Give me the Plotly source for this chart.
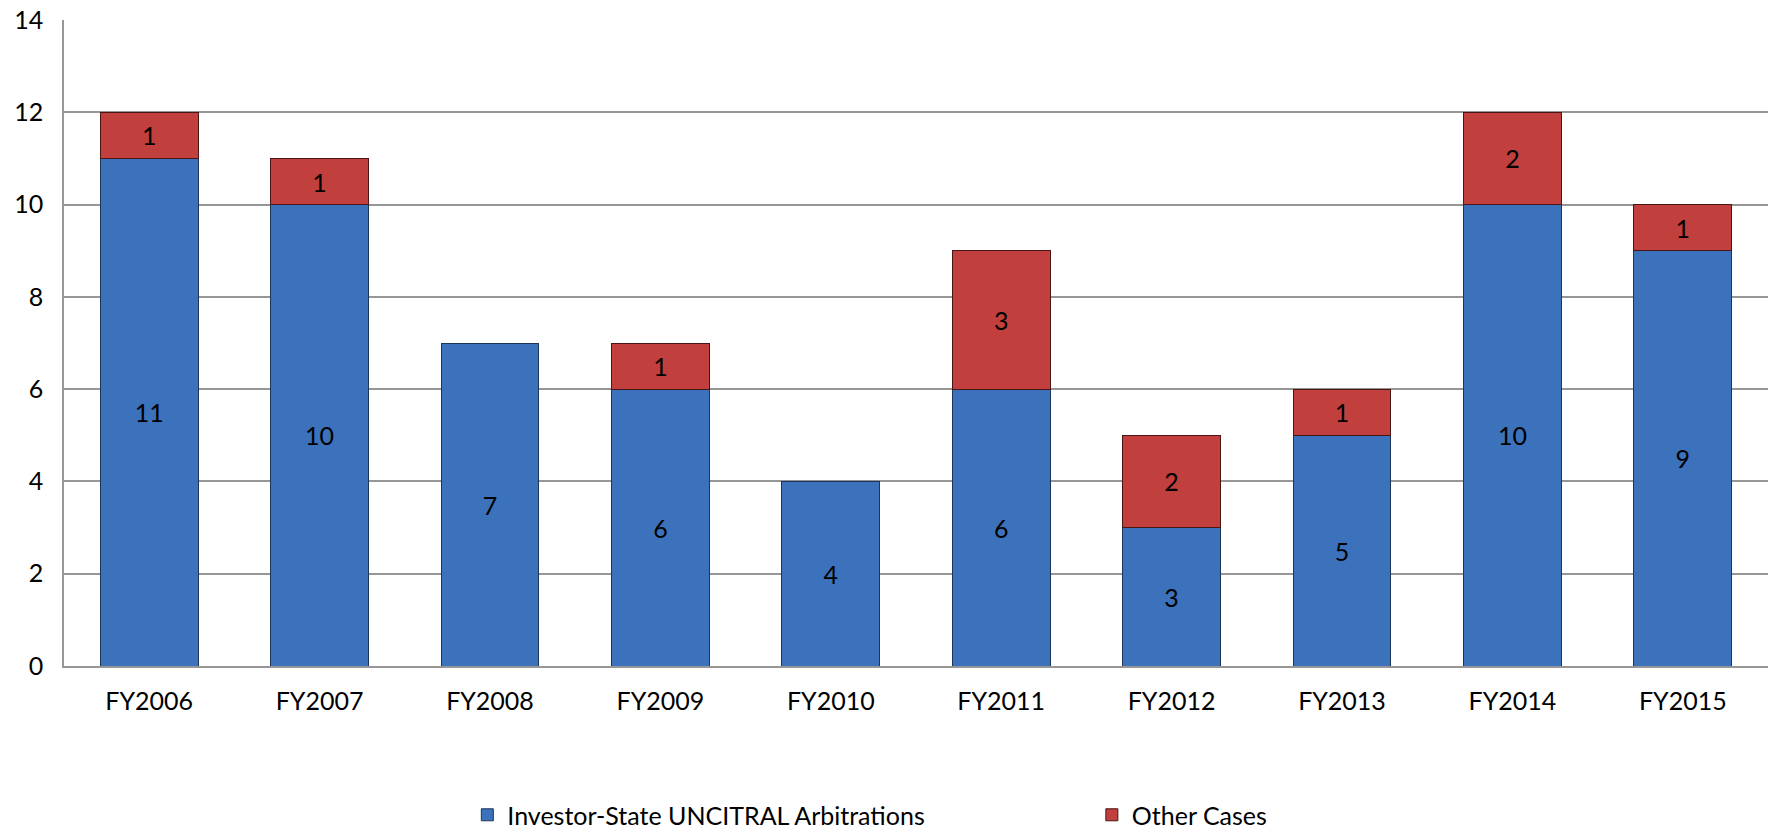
"""UNCITRAL cases per fiscal year, stacked bars."""
import plotly.graph_objects as go

years = ["FY2006", "FY2007", "FY2008", "FY2009", "FY2010",
         "FY2011", "FY2012", "FY2013", "FY2014", "FY2015"]
investor_state = [11, 10, 7, 6, 4, 6, 3, 5, 10, 9]
other_cases = [1, 1, 0, 1, 0, 3, 2, 1, 2, 1]

FONT = "Lato, 'Open Sans', sans-serif"
FS = 25

fig = go.Figure()
fig.add_trace(go.Bar(
    x=years, y=investor_state, name="Investor-State UNCITRAL Arbitrations",
    marker=dict(color="#3c72bc", line=dict(color="#1d3557", width=1)),
    text=[str(v) for v in investor_state], textposition="inside",
    insidetextanchor="middle", textangle=0,
    textfont=dict(color="black", size=FS, family=FONT),
    showlegend=True, legend="legend"))
fig.add_trace(go.Bar(
    x=years, y=[v if v else None for v in other_cases], name="Other Cases",
    marker=dict(color="#c13f3d", line=dict(color="#4a1514", width=1)),
    text=[str(v) if v else "" for v in other_cases], textposition="inside",
    insidetextanchor="middle", textangle=0,
    textfont=dict(color="black", size=FS, family=FONT),
    showlegend=True, legend="legend2"))

fig.update_layout(
    barmode="stack", bargap=0.425,
    width=1774, height=831, showlegend=True,
    margin=dict(l=64, r=6, t=20, b=165, autoexpand=False),
    paper_bgcolor="white", plot_bgcolor="white",
    font=dict(family=FONT, size=FS, color="black"),
    uniformtext=dict(minsize=20, mode="show"),
    legend=dict(orientation="h", x=0.2367, xanchor="left", y=-0.2307,
                yanchor="middle", font=dict(size=FS), bgcolor="rgba(0,0,0,0)"),
    legend2=dict(orientation="h", x=0.6032, xanchor="left", y=-0.2307,
                 yanchor="middle", font=dict(size=FS), bgcolor="rgba(0,0,0,0)"),
)
fig.update_yaxes(range=[0, 14], dtick=2, showgrid=True, gridcolor="#969696",
                 gridwidth=1.5, showline=True, linecolor="#969696", linewidth=1.5,
                 zeroline=False, ticks="", ticklabelstandoff=14, automargin=False,
                 ticklabeloverflow="allow", tickfont=dict(size=FS))
fig.update_xaxes(showline=True, linecolor="#969696", linewidth=1.5, ticks="",
                 ticklabelstandoff=12, automargin=False, tickfont=dict(size=FS))

# drop the default 8px body margin so the figure fills the window
fig.write_html("out.html", config={"displayModeBar": False},
               post_script="document.body.style.margin='0';"
                           "document.body.style.overflow='hidden';")
